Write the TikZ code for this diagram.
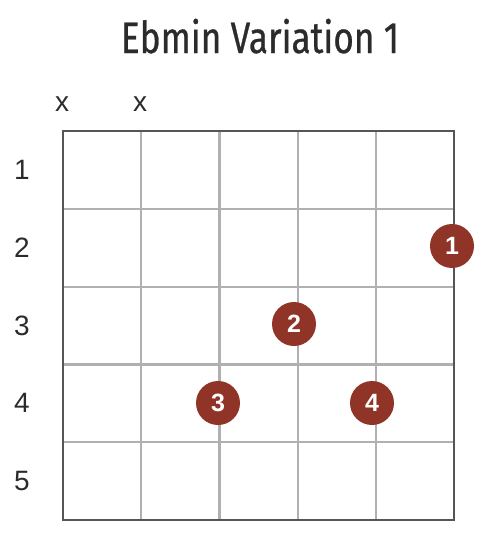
\documentclass[tikz,border=0pt]{standalone}
\usepackage{fontspec}
\setmainfont{Liberation Sans}
\newfontfamily\titlefont[FakeStretch=0.8,FakeBold=0.6]{Fira Sans}
\usetikzlibrary{positioning}
\definecolor{fretRed}{HTML}{903428}
\definecolor{gridGray}{HTML}{B0B0B0}
\definecolor{frameGray}{HTML}{555555}
\definecolor{inkGray}{HTML}{2B2B2B}
\begin{document}
\begin{tikzpicture}[x=1pt,y=-1pt,
  ttl/.style={font=\titlefont\fontsize{44}{44}\selectfont,text=inkGray,inner sep=0pt},
  lbl/.style={font=\fontsize{28}{28}\selectfont,text=inkGray,inner sep=0pt},
  fing/.style={circle,fill=fretRed,minimum size=44pt,inner sep=0pt,text=white,
    font=\fontsize{25}{25}\selectfont\bfseries},
  thin/.style={gridGray,line width=2.2pt},
  frame/.style={frameGray,line width=2pt}]
  \useasboundingbox (0,0) rectangle (488,550);
  \node[ttl,anchor=base] (title) at (260,53) {Ebmin Variation 1};
  % strings and frets
  \foreach \i in {1,...,4}{\draw[thin] (63+78.2*\i,131) -- (63+78.2*\i,520);}
  \foreach \j in {1,...,4}{\draw[thin] (63,131+77.8*\j) -- (454,131+77.8*\j);}
  \draw[frame] (63,131) rectangle (454,520);
  % muted strings
  \node[lbl] (mute1) at (62,104) {x};
  \node[lbl] (mute2) at (140,104) {x};
  % fret numbers
  \foreach \j in {1,...,5}{\node[lbl] (fret\j) at (22,131+77.8*\j-38.9) {\j};}
  % fingers
  \node[fing] (f1) at (452,246) {1};
  \node[fing] (f2) at (294,324) {2};
  \node[fing] (f3) at (218,403) {3};
  \node[fing] (f4) at (372,403) {4};
\end{tikzpicture}
\end{document}
